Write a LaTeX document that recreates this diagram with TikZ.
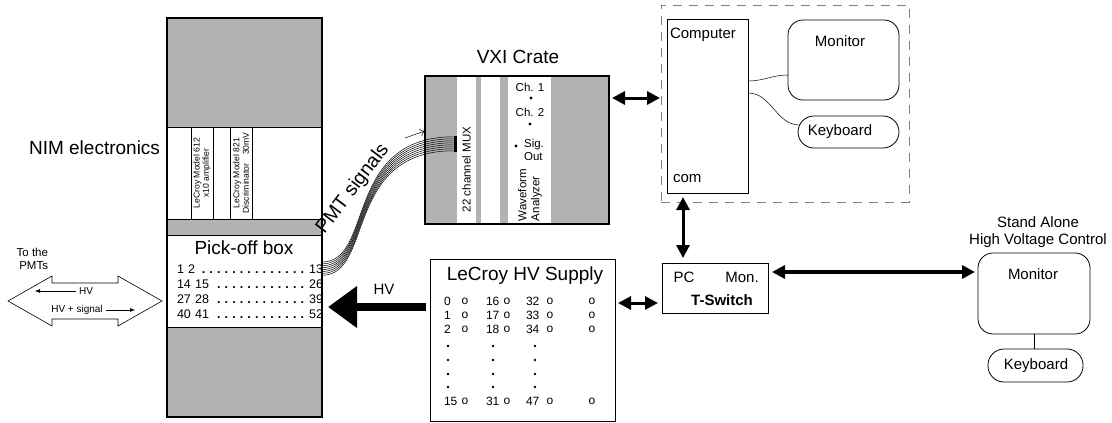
\documentclass[tikz,border=0pt]{standalone}
\usepackage{fontspec}
\setmainfont{Liberation Sans}
\usetikzlibrary{arrows.meta,calc}
\newcommand\pickdots{\leaders\hbox to 7.6pt{\hss\textbf{.}\hss}\hskip 0pt plus 1fill\relax}

\begin{document}
\begin{tikzpicture}[x=1pt,y=-1pt]
        \tikzstyle{every node}=[inner sep=0pt,outer sep=0pt]
        \tikzstyle{crate}=[draw,line width=1.2pt,fill=gray!60,anchor=north west]
        \tikzstyle{panel}=[draw,line width=0.7pt,fill=white,anchor=north west]
        \tikzstyle{strip}=[fill=white,anchor=north west]
        \tikzstyle{module}=[draw,line width=0.7pt,fill=white,rotate=90,align=center,font=\fontsize{8.6}{9.4}\selectfont]
        \tikzstyle{box}=[draw,line width=1pt,anchor=north west]
        \tikzstyle{screen}=[draw,line width=0.8pt,rounded corners=15pt,anchor=north west]
        \tikzstyle{keys}=[draw,line width=0.8pt,rounded corners=16pt,anchor=north west]
        \tikzstyle{big}=[font=\fontsize{19}{21}\selectfont]
        \tikzstyle{mid}=[font=\fontsize{15}{17}\selectfont]
        \tikzstyle{midb}=[font=\fontsize{15}{17}\selectfont\bfseries]
        \tikzstyle{row}=[font=\fontsize{12.5}{14}\selectfont]
        \tikzstyle{small}=[font=\fontsize{11.5}{13}\selectfont]
        \tikzstyle{table}=[font=\fontsize{12}{13}\selectfont]
        \tikzstyle{tiny}=[font=\fontsize{10}{11}\selectfont]
        \tikzstyle{link}=[line width=3pt,{Triangle[length=13pt,width=13pt]}-{Triangle[length=13pt,width=13pt]}]
        \useasboundingbox (0,0) rectangle (1112,423);

        % NIM crate with the pick-off box
        \node[crate,minimum width=155pt,minimum height=399pt] (nim) at (167,18) {};
        \node[panel,minimum width=155pt,minimum height=92pt] (nimbin) at (167,127) {};
        \node[panel,minimum width=155pt,minimum height=92pt] (pickoff) at (167,235) {};
        \node[module,minimum width=92pt,minimum height=22pt] (amp) at (202,173) {LeCroy Model 612\\x10 amplifier};
        \node[module,minimum width=92pt,minimum height=22pt] (disc) at (241,173) {LeCroy Model 821\\Discriminator\quad 30mV};
        \draw[line width=1.2pt] (nim.north west) rectangle (nim.south east);
        \node[big,anchor=east] (nimlbl) at (160,148) {NIM electronics};
        \node[big] (pktitle) at (244,248) {Pick-off box};
        \foreach \a/\b/\yy in {1 2/13/269,14 15/26/284,27 28/39/299,40 41/52/314}
                \node[row,anchor=west,text width=146pt] at (177,\yy) {\a\pickdots\b};

        % to the PMTs
        \draw[line width=0.6pt] (8,301) -- (52,276) -- (52,283) -- (118,283) -- (118,276) -- (162,301)
                -- (118,326) -- (118,319) -- (52,319) -- (52,326) -- cycle;
        \node[small,anchor=east,align=right] (pmts) at (48,259) {To the\\PMTs};
        \node[tiny] (hvback) at (86,291) {HV};
        \coordinate (hvend) at (35,291);
        \draw[shorten <=3pt,-{Latex[length=5pt]}] (hvback) -- (hvend);
        \node[tiny] (hvsig) at (77,310) {HV + signal};
        \coordinate (sigend) at (135,310);
        \draw[shorten <=3pt,-{Latex[length=5pt]}] (hvsig) -- (sigend);

        % VXI crate
        \node[crate,minimum width=184pt,minimum height=148pt] (vxi) at (425,76) {};
        \node[strip,minimum width=19pt,minimum height=147pt] (mux) at (457,76.5) {};
        \node[strip,minimum width=19pt,minimum height=147pt] (blank) at (481,76.5) {};
        \node[strip,minimum width=43pt,minimum height=147pt] (wfa) at (508,76.5) {};
        \draw[line width=1.2pt] (vxi.north west) rectangle (vxi.south east);
        \node[big] (vxilbl) at (518,57) {VXI Crate};
        \node[small,rotate=90,anchor=west] (muxlbl) at (466.5,212) {22 channel MUX};
        \node[small] (ch1) at (530,87) {Ch. 1};
        \fill (531,98) circle (1.6);
        \node[small] (ch2) at (530,112) {Ch. 2};
        \fill (530,124) circle (1.6);
        \fill (516,146) circle (1.6);
        \node[small,align=left] (sig) at (534,150) {Sig.\\Out};
        \node[small,rotate=90,anchor=west,align=left] (wfalbl) at (530,221) {Waveform\\Analyzer};

        % PMT signal cables
        \node[fill,minimum width=3pt,minimum height=16pt] (plug) at (455,144) {};
        \foreach \i in {0,...,7}
                \draw[line width=0.5pt] ($(pickoff.north east)+(0,{27+1.9*\i})$) .. controls +(52,0) and +(-110,0) .. ($(plug.north west)+(0,{0.8+2*\i})$);
        \node[font=\fontsize{19.5}{22}\selectfont,rotate=53] (pmtlbl) at (353,189) {PMT signals};
        \coordinate (sigtail) at (405,138);
        \coordinate (muxin) at (425,131);
        \draw[line width=0.5pt,-{To[length=5pt,width=8pt]}] (sigtail) -- (muxin);

        % HV supply
        \node[box,minimum width=185pt,minimum height=162pt] (hvs) at (430,259) {};
        \node[big] (hvtitle) at (525,276) {LeCroy HV Supply};
        \foreach \r/\yy in {0/301,1/315,2/329,15/401}{
                \pgfmathtruncatemacro{\rb}{\r+16}
                \pgfmathtruncatemacro{\rc}{\r+32}
                \node[table,anchor=west] at (444,\yy) {\r};
                \node[table,anchor=west] at (486,\yy) {\rb};
                \node[table,anchor=west] at (526,\yy) {\rc};
                \foreach \xx in {465,507,550,592}
                        \node[table] at (\xx,\yy) {o};
        }
        \foreach \yy in {346,360,374,387}
                \foreach \xx in {448,493,535}
                        \fill (\xx,\yy) circle (1.3);
        \draw[line width=8pt,-{Triangle[length=29pt,width=40pt]}] ($(hvs.north west)+(-4,48)$) -- ($(pickoff.north east)+(6,72)$);
        \node[mid] (hvlbl) at (384,289) {HV};

        % computer
        \node[draw,gray,dash pattern=on 9pt off 7pt,line width=0.8pt,anchor=north west,minimum width=248pt,minimum height=197pt] (pcarea) at (661,5) {};
        \node[box,minimum width=81pt,minimum height=174pt] (comp) at (667,19) {};
        \node[mid,anchor=west] (complbl) at (670,35) {Computer};
        \node[mid,anchor=west] (com) at (673,179) {com};
        \node[screen,minimum width=111pt,minimum height=80pt] (mon) at (788,20) {};
        \node[mid] (monlbl) at (840,41) {Monitor};
        \node[keys,minimum width=101pt,minimum height=32pt] (kbd) at (798,116) {};
        \node[mid] (kbdlbl) at (840,132) {Keyboard};
        \draw[line width=0.5pt] ($(comp.north east)+(0,62)$) to[out=0,in=180] ($(mon.north west)+(0,55)$);
        \draw[line width=0.5pt] ($(comp.north east)+(0,74)$) to[out=0,in=180] ($(kbd.north west)+(1.6,9)$);

        % T-switch and stand alone control
        \node[box,minimum width=106pt,minimum height=50pt] (tsw) at (662,263) {};
        \node[mid] (pc) at (684,277) {PC};
        \node[mid] (monport) at (742,277) {Mon.};
        \node[midb] (tswlbl) at (722,300) {T-Switch};
        \node[screen,minimum width=112pt,minimum height=81pt] (samon) at (978,253) {};
        \node[mid] (samonlbl) at (1033,274) {Monitor};
        \node[keys,minimum width=95pt,minimum height=33pt] (sakbd) at (988,349) {};
        \node[mid] (sakbdlbl) at (1036,366) {Keyboard};
        \draw[line width=0.6pt] (samon.south) -- (samon.south |- sakbd.north);
        \node[mid,align=center] (salbl) at (1038,232) {Stand Alone\\High Voltage Control};

        \draw[link] ($(vxi.north east)+(3,22)$) -- ($(pcarea.north west)+(-1,93)$);
        \draw[link] ($(comp.south west)+(16,4)$) -- ($(tsw.north west)+(21,-5)$);
        \draw[link] ($(hvs.north east)+(3,44)$) -- ($(tsw.north west)+(-4,40)$);
        \draw[link,line width=4pt] ($(tsw.north east)+(4,9)$) -- ($(samon.north west)+(-3,19)$);
\end{tikzpicture}
\end{document}
